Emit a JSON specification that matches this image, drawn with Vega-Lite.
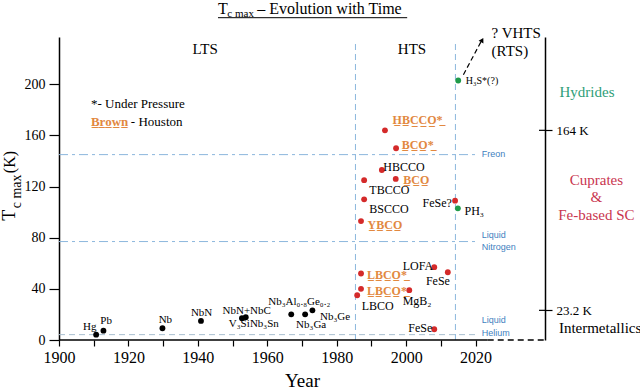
{
"$schema": "https://vega.github.io/schema/vega-lite/v6.json",
"width": 486, "height": 303,
"autosize": "none",
"padding": {"left": 59, "top": 37, "right": 95, "bottom": 52},
"background": "white",
"config": {"view": {"stroke": null}, "font": "Liberation Serif", "text": {"font": "Liberation Serif"}, "axis": {"labelFont": "Liberation Serif", "titleFont": "Liberation Serif", "grid": false}},
"datasets": {
"points": [
{"year":1910.7,"tc":4.2,"group":"LTS"},{"year":1912.8,"tc":7.3,"group":"LTS"},{"year":1929.8,"tc":9.2,"group":"LTS"},
{"year":1940.9,"tc":14.9,"group":"LTS"},{"year":1952.7,"tc":17.0,"group":"LTS"},{"year":1953.8,"tc":17.8,"group":"LTS"},
{"year":1966.9,"tc":20.1,"group":"LTS"},{"year":1970.9,"tc":20.1,"group":"LTS"},{"year":1973.0,"tc":23.2,"group":"LTS"},
{"year":1993.9,"tc":164,"group":"HTS"},{"year":1997.1,"tc":150,"group":"HTS"},{"year":1993.0,"tc":133,"group":"HTS"},
{"year":1987.9,"tc":125,"group":"HTS"},{"year":1997.0,"tc":126,"group":"HTS"},{"year":1987.9,"tc":110,"group":"HTS"},
{"year":1987.0,"tc":93,"group":"HTS"},{"year":2014.1,"tc":109,"group":"HTS"},{"year":2008.1,"tc":57,"group":"HTS"},
{"year":2012.0,"tc":53,"group":"HTS"},{"year":1987.0,"tc":52,"group":"HTS"},{"year":1987.0,"tc":40,"group":"HTS"},
{"year":1985.9,"tc":35,"group":"HTS"},{"year":2000.9,"tc":39,"group":"HTS"},{"year":2008.1,"tc":8.4,"group":"HTS"},
{"year":2015.0,"tc":203,"group":"Hydride"},{"year":2014.9,"tc":103,"group":"Hydride"}
],
"lts": [
{"year":1906.9,"tc":9.9,"label":"Hg"},{"year":1911.9,"tc":14.9,"label":"Pb"},{"year":1928.7,"tc":15.7,"label":"Nb"},
{"year":1938.0,"tc":21.4,"label":"NbN"},{"year":1947.1,"tc":22.7,"label":"NbN+NbC"},{"year":1948.9,"tc":12.5,"label":"V₃Si"},
{"year":1955.0,"tc":12.5,"label":"Nb₃Sn"},{"year":1960.3,"tc":29.5,"label":"Nb₃Al₀.₈Ge₀.₂"},{"year":1975.2,"tc":18.3,"label":"Nb₃Ge"},
{"year":1968.3,"tc":11.7,"label":"Nb₃Ga"}
],
"blk": [
{"year":1993.4,"tc":135.7,"label":"HBCCO"},{"year":1989.4,"tc":117.5,"label":"TBCCO"},
{"year":1989.4,"tc":102.8,"label":"BSCCO"},{"year":2016.8,"tc":101,"label":"PH₃"},{"year":1999.0,"tc":57.9,"label":"LOFA"},
{"year":2005.7,"tc":46.2,"label":"FeSe"},{"year":1987.2,"tc":26.6,"label":"LBCO"},{"year":1999.0,"tc":30.5,"label":"MgB₂"},
{"year":2000.6,"tc":9.2,"label":"FeSe"},{"year":2004.7,"tc":107,"label":"FeSe?"}
],
"brown": [
{"year":1996.1,"tc":171.7,"label":"H̲B̲C̲C̲O̲*̲"},{"year":1998.7,"tc":152.7,"label":"B̲C̲O̲*̲"},{"year":1999.2,"tc":125.3,"label":"B̲C̲O̲"},
{"year":1988.9,"tc":90.1,"label":"Y̲B̲C̲O̲"},{"year":1988.7,"tc":50.9,"label":"L̲B̲C̲O̲*̲"},{"year":1988.7,"tc":38.4,"label":"L̲B̲C̲O̲*̲"}
],
"blue": [
{"year":2021.8,"tc":145.4,"label":"Freon"},{"year":2021.8,"tc":82.2,"label":"Liquid"},{"year":2021.8,"tc":72.6,"label":"Nitrogen"},
{"year":2021.8,"tc":15.7,"label":"Liquid"},{"year":2021.8,"tc":5.7,"label":"Helium"}
],
"arrow": [{"year":2016.5,"tc":207.5},{"year":2021.5,"tc":233.0}]
},
"encoding": {
"x": {"field":"year","type":"quantitative","scale":{"domain":[1900,2040],"nice":false,"zero":false},"axis":null},
"y": {"field":"tc","type":"quantitative","scale":{"domain":[0,237],"nice":false},"axis":null}
},
"layer": [
{"data":{"values":[{"year":1900,"year2":2020,"tc":145},{"year":1900,"year2":2020,"tc":77}]},"mark":{"type":"rule","color":"#8cb7dd","strokeDash":[9,4,3,4],"strokeWidth":1},"encoding":{"x2":{"field":"year2"}}},
{"data":{"values":[{"year":1900,"year2":2020,"tc":4.2}]},"mark":{"type":"rule","color":"#a9bfd0","strokeDash":[6,4],"strokeWidth":1},"encoding":{"x2":{"field":"year2"}}},
{"data":{"values":[{"year":1985.4,"tc":0,"tc2":234},{"year":2014.2,"tc":0,"tc2":234}]},"mark":{"type":"rule","color":"#8cb7dd","strokeDash":[6,4],"strokeWidth":1},"encoding":{"y2":{"field":"tc2"}}},
{"data":{"values":[{"year":1900,"year2":2023.5,"tc":0}]},"mark":{"type":"rule","color":"black","strokeWidth":1.5},"encoding":{"x2":{"field":"year2"}}},
{"data":{"values":[{"year":2023.5,"year2":2040,"tc":0}]},"mark":{"type":"rule","color":"black","strokeWidth":1.5,"strokeDash":[6,4]},"encoding":{"x2":{"field":"year2"}}},
{"data":{"name":"arrow"},"mark":{"type":"line","color":"black","strokeWidth":1.2,"strokeDash":[5,3]}},
{"data":{"values":[{"year":2021.9,"tc":234.6}]},"mark":{"type":"point","shape":"triangle-up","filled":true,"color":"black","size":30,"angle":29,"opacity":1}},
{"data":{"name":"points"},"mark":{"type":"circle","size":34,"opacity":1},
"encoding":{
"x": {"field":"year","type":"quantitative","scale":{"domain":[1900,2040],"nice":false,"zero":false},
"axis":{"orient":"bottom","values":[1900,1910,1920,1930,1940,1950,1960,1970,1980,1990,2000,2010,2020],"labelExpr":"datum.value % 20 === 0 ? datum.label : ''","format":"d","labelFlush":false,"labelOverlap":false,"domain":false,"tickColor":"black","tickSize":6,"tickWidth":1.2,"labelFontSize":16,"labelPadding":3,"labelColor":"black","title":"Year","titleFontSize":19,"titleFontWeight":"normal","titleColor":"black","titlePadding":6}},
"y": {"field":"tc","type":"quantitative","scale":{"domain":[0,237],"nice":false},
"axis":{"orient":"left","values":[0,40,80,120,160,200],"format":"d","labelFlush":false,"domainColor":"black","domainWidth":1.5,"tickColor":"black","tickSize":10,"tickWidth":1.2,"labelFontSize":14,"labelColor":"black","labelPadding":4,"title":null}},
"color":{"field":"group","type":"nominal","scale":{"domain":["LTS","HTS","Hydride"],"range":["black","#d42a2a","#1f9a4a"]},"legend":null}}},
{"data":{"values":[{"year":2040,"tc":23.2},{"year":2040,"tc":164}]},
"mark":{"type":"rule","color":"black","strokeWidth":1.2,"xOffset":-6},
"encoding":{
"x2":{"field":"year"},
"y":{"field":"tc","type":"quantitative","scale":{"domain":[0,237],"nice":false},
"axis":{"orient":"right","values":[23.2,164],"labelExpr":"datum.value + ' K'","labelFlush":false,"domainColor":"black","domainWidth":1.5,"tickColor":"black","tickSize":7,"tickWidth":1.2,"labelFontSize":13,"labelColor":"black","labelPadding":4,"title":null}}}},
{"data":{"name":"lts"},"mark":{"type":"text","align":"left","baseline":"middle","fontSize":11,"color":"black"},"encoding":{"text":{"field":"label"}}},
{"data":{"name":"blk"},"mark":{"type":"text","align":"left","baseline":"middle","fontSize":12,"color":"black"},"encoding":{"text":{"field":"label"}}},
{"data":{"name":"brown"},"mark":{"type":"text","align":"left","baseline":"middle","fontSize":12,"fontWeight":"bold","color":"#e2883f"},"encoding":{"text":{"field":"label"}}},
{"data":{"name":"blue"},"mark":{"type":"text","align":"left","baseline":"middle","fontSize":9,"font":"Liberation Sans","color":"#3f7fc0"},"encoding":{"text":{"field":"label"}}},
{"data":{"values":[{"year":2017.2,"tc":202.3,"label":"H₃S*(?)"}]},"mark":{"type":"text","align":"left","baseline":"middle","fontSize":10,"color":"black"},"encoding":{"text":{"field":"label"}}},
{"data":{"values":[{"year":1942.1,"tc":227.9,"label":"LTS"},{"year":2001.7,"tc":227.9,"label":"HTS"}]},"mark":{"type":"text","align":"center","baseline":"middle","fontSize":15,"color":"black"},"encoding":{"text":{"field":"label"}}},
{"data":{"values":[{"year":2024.6,"tc":240.4,"label":"? VHTS"},{"year":2024.6,"tc":226.3,"label":"(RTS)"}]},"mark":{"type":"text","align":"left","baseline":"middle","fontSize":15,"color":"black"},"encoding":{"text":{"field":"label"}}},
{"data":{"values":[{"year":1909.2,"tc":184.8,"label":"*- Under Pressure"},{"year":1920.7,"tc":170.5,"label":" - Houston"}]},"mark":{"type":"text","align":"left","baseline":"middle","fontSize":13,"color":"black"},"encoding":{"text":{"field":"label"}}},
{"data":{"values":[{"year":1909.2,"tc":170.5,"label":"B̲r̲o̲w̲n̲"}]},"mark":{"type":"text","align":"left","baseline":"middle","fontSize":13,"fontWeight":"bold","color":"#e2883f"},"encoding":{"text":{"field":"label"}}},
{"data":{"values":[{"year":2052.1,"tc":193.6,"label":"Hydrides"}]},"mark":{"type":"text","align":"center","baseline":"middle","fontSize":15,"color":"#2e9e78"},"encoding":{"text":{"field":"label"}}},
{"data":{"values":[{"year":2054.8,"tc":125.3,"label":"Cuprates"},{"year":2054.8,"tc":112,"label":"&"},{"year":2054.8,"tc":97.9,"label":"Fe-based SC"}]},"mark":{"type":"text","align":"center","baseline":"middle","fontSize":15,"color":"#c9364f"},"encoding":{"text":{"field":"label"}}},
{"data":{"values":[{"year":2044.0,"tc":9.4,"label":"Intermetallics"}]},"mark":{"type":"text","align":"left","baseline":"middle","fontSize":15,"color":"black"},"encoding":{"text":{"field":"label"}}},
{"data":{"values":[{"year":1945.8,"tc":254.9,"label":"T"}]},"mark":{"type":"text","align":"left","baseline":"alphabetic","fontSize":16,"color":"black"},"encoding":{"text":{"field":"label"}}},
{"data":{"values":[{"year":1948.5,"tc":252.9,"label":"c max"}]},"mark":{"type":"text","align":"left","baseline":"alphabetic","fontSize":11,"color":"black"},"encoding":{"text":{"field":"label"}}},
{"data":{"values":[{"year":1957.1,"tc":254.9,"label":"– Evolution with Time"}]},"mark":{"type":"text","align":"left","baseline":"alphabetic","fontSize":16,"color":"black"},"encoding":{"text":{"field":"label"}}},
{"data":{"values":[{"year":1945.8,"year2":2000.3,"tc":252.1}]},"mark":{"type":"rule","color":"black","strokeWidth":1},"encoding":{"x2":{"field":"year2"}}},
{"data":{"values":[{"year":1887.4,"tc":93.2,"label":"T"}]},"mark":{"type":"text","align":"left","baseline":"alphabetic","angle":270,"fontSize":18,"color":"black"},"encoding":{"text":{"field":"label"}}},
{"data":{"values":[{"year":1889.1,"tc":103.0,"label":"c max"}]},"mark":{"type":"text","align":"left","baseline":"alphabetic","angle":270,"fontSize":14,"color":"black"},"encoding":{"text":{"field":"label"}}},
{"data":{"values":[{"year":1887.4,"tc":130.5,"label":"(K)"}]},"mark":{"type":"text","align":"left","baseline":"alphabetic","angle":270,"fontSize":16,"color":"black"},"encoding":{"text":{"field":"label"}}}
],
"resolve": {"axis": {"x": "independent", "y": "independent"}}
}
